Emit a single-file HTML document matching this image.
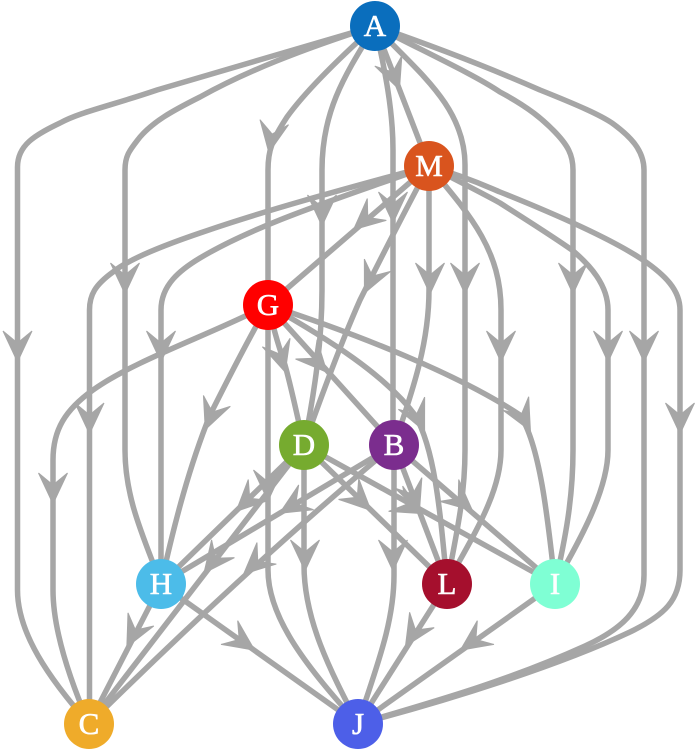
<!DOCTYPE html>
<html><head><meta charset="utf-8"><style>
html,body{margin:0;padding:0;background:#fff;width:700px;height:751px;overflow:hidden}
svg{display:block}
text{font-family:"Liberation Serif",serif;font-size:31px;font-weight:normal;fill:#fff;stroke:#fff;stroke-width:.6px;text-anchor:middle}
</style></head><body>
<svg width="700" height="751" viewBox="0 0 700 751" xmlns="http://www.w3.org/2000/svg">
<defs><path id="a" d="M18 0 Q5 6 -13 14.500 Q-6 6 -1 0 Q-6 -6 -13 -14.500 Q5 -6 18 0Z" fill="#a6a6a6" stroke="#a6a6a6" stroke-width="1"/></defs>
<g fill="none" stroke="#a6a6a6" stroke-width="5.500">
<path d="M375 26 L157 90 C110 106 80 112 60 123 C35 135 17.500 145 17.500 167 L17.500 590 C17.500 640 60 690 89 724"/>
<path d="M375 26 C300 50 245 72 200 97 C170 112 153 122 140 137 C130 150 125 155 125 170 L125 450 C125 500 145 540 161 584"/>
<path d="M375 26 C335 62 305 92 287 117 C272 140 268 150 268 170 L268 305"/>
<path d="M375 26 C345 75 322 110 322 170 L322 290 C322 340 315 390 304 445"/>
<path d="M375 26 C385 70 393 110 393 150 L393 445"/>
<path d="M375 26 L429 166"/>
<path d="M375 26 C415 70 465 105 465 165 L465 450 C465 500 455 540 447 584"/>
<path d="M375 26 C425 52 475 75 500 92 C530 108 543 120 553 130 C568 145 573 155 573 170 L573 450 C573 500 565 540 555 584"/>
<path d="M375 26 C430 45 490 68 540 90 C580 106 600 115 612 123 C630 136 644 150 644 170 L644 575 C644 610 620 630 585 646 C510 680 440 700 358 724"/>
<path d="M429 166 C340 190 260 212 200 233 C150 250 125 262 113 272 C95 285 89.500 295 89.500 310 L89.500 724"/>
<path d="M429 166 C350 195 260 222 200 258 C180 270 161 285 161 310 L161 584"/>
<path d="M429 166 L268 305"/>
<path d="M429 166 C400 220 375 270 360 300 C340 345 320 400 304 445"/>
<path d="M429 166 L429 290 C429 340 415 385 394 445"/>
<path d="M429 166 C470 215 501 250 501 310 L501 450 C501 495 470 540 447 584"/>
<path d="M429 166 C460 182 480 192 500 203 C530 222 555 238 572 250 C590 265 608 285 608 310 L608 450 C608 490 580 540 555 584"/>
<path d="M429 166 C470 178 490 188 500 192 C550 212 610 238 643 260 C665 275 680 290 680 310 L680 570 C680 600 665 615 630 632 C560 665 450 700 358 724"/>
<path d="M268 305 C210 335 135 360 93 390 C65 410 53 430 53 460 L53 590 C53 630 70 680 89 724"/>
<path d="M268 305 C245 345 225 385 210 415 C190 465 175 520 161 584"/>
<path d="M268 305 L268 570 C268 620 310 670 358 724"/>
<path d="M268 305 C275 335 280 350 285 365 C292 390 298 420 304 445"/>
<path d="M268 305 L394 445"/>
<path d="M268 305 C330 340 385 375 415 415 C435 450 440 510 447 584"/>
<path d="M268 305 C360 335 460 375 520 415 C540 445 548 520 555 584"/>
<path d="M304 445 L161 584"/>
<path d="M304 445 L89 724"/>
<path d="M304 445 L447 584"/>
<path d="M304 445 L555 584"/>
<path d="M304 445 L304 565 C304 620 330 670 358 724"/>
<path d="M394 445 L161 584"/>
<path d="M394 445 Q250 565 89 724"/>
<path d="M394 445 L447 584"/>
<path d="M394 445 L555 584"/>
<path d="M394 445 L394 575 C394 625 375 670 358 724"/>
<path d="M161 584 L89 724"/>
<path d="M161 584 L358 724"/>
<path d="M447 584 L358 724"/>
<path d="M555 584 L358 724"/>
</g>
<use href="#a" transform="translate(17.500 344) rotate(90)"/>
<use href="#a" transform="translate(125 276) rotate(90)"/>
<use href="#a" transform="translate(272 135) rotate(100)"/>
<use href="#a" transform="translate(322 208) rotate(90)"/>
<use href="#a" transform="translate(393 73) rotate(69)"/>
<use href="#a" transform="translate(393 205) rotate(90)"/>
<use href="#a" transform="translate(465 276) rotate(90)"/>
<use href="#a" transform="translate(573 276) rotate(90)"/>
<use href="#a" transform="translate(644 344) rotate(90)"/>
<use href="#a" transform="translate(89.500 416) rotate(90)"/>
<use href="#a" transform="translate(161 344) rotate(90)"/>
<use href="#a" transform="translate(367 218) rotate(139)"/>
<use href="#a" transform="translate(372 277) rotate(115)"/>
<use href="#a" transform="translate(430 276) rotate(90)"/>
<use href="#a" transform="translate(501 344) rotate(90)"/>
<use href="#a" transform="translate(608 344) rotate(90)"/>
<use href="#a" transform="translate(680 416) rotate(90)"/>
<use href="#a" transform="translate(53 486) rotate(90)"/>
<use href="#a" transform="translate(212 413) rotate(112)"/>
<use href="#a" transform="translate(268 483) rotate(90)"/>
<use href="#a" transform="translate(280 355) rotate(73)"/>
<use href="#a" transform="translate(315 359) rotate(48)"/>
<use href="#a" transform="translate(417 415) rotate(65)"/>
<use href="#a" transform="translate(522 415) rotate(62)"/>
<use href="#a" transform="translate(249 499) rotate(136)"/>
<use href="#a" transform="translate(215 559) rotate(128)"/>
<use href="#a" transform="translate(358 498) rotate(44)"/>
<use href="#a" transform="translate(407 505) rotate(29)"/>
<use href="#a" transform="translate(305 553) rotate(90)"/>
<use href="#a" transform="translate(295 504) rotate(149)"/>
<use href="#a" transform="translate(257 562) rotate(138)"/>
<use href="#a" transform="translate(413 495) rotate(69)"/>
<use href="#a" transform="translate(459 499) rotate(41)"/>
<use href="#a" transform="translate(393 553) rotate(90)"/>
<use href="#a" transform="translate(135 631) rotate(117)"/>
<use href="#a" transform="translate(240 640) rotate(35)"/>
<use href="#a" transform="translate(415 631) rotate(122)"/>
<use href="#a" transform="translate(475 640) rotate(145)"/>
<circle cx="375" cy="26" r="25" fill="#0a6ebd"/>
<circle cx="429" cy="166" r="25" fill="#d9541e"/>
<circle cx="268" cy="305" r="25" fill="#ff0000"/>
<circle cx="304" cy="445" r="25" fill="#76ab2f"/>
<circle cx="394" cy="445" r="25" fill="#7b2d8e"/>
<circle cx="161" cy="584" r="25" fill="#4cbce9"/>
<circle cx="447" cy="584" r="25" fill="#a50f2d"/>
<circle cx="555" cy="584" r="25" fill="#7fffd4"/>
<circle cx="89" cy="724" r="25" fill="#efab2a"/>
<circle cx="358" cy="724" r="25" fill="#4d5fe8"/>
<text x="375" y="36">A</text>
<text x="429" y="176">M</text>
<text x="268" y="315">G</text>
<text x="304" y="455">D</text>
<text x="394" y="455">B</text>
<text x="161" y="594">H</text>
<text x="447" y="594">L</text>
<text x="555" y="594">I</text>
<text x="89" y="734">C</text>
<text x="358" y="734">J</text>
</svg>
</body></html>
